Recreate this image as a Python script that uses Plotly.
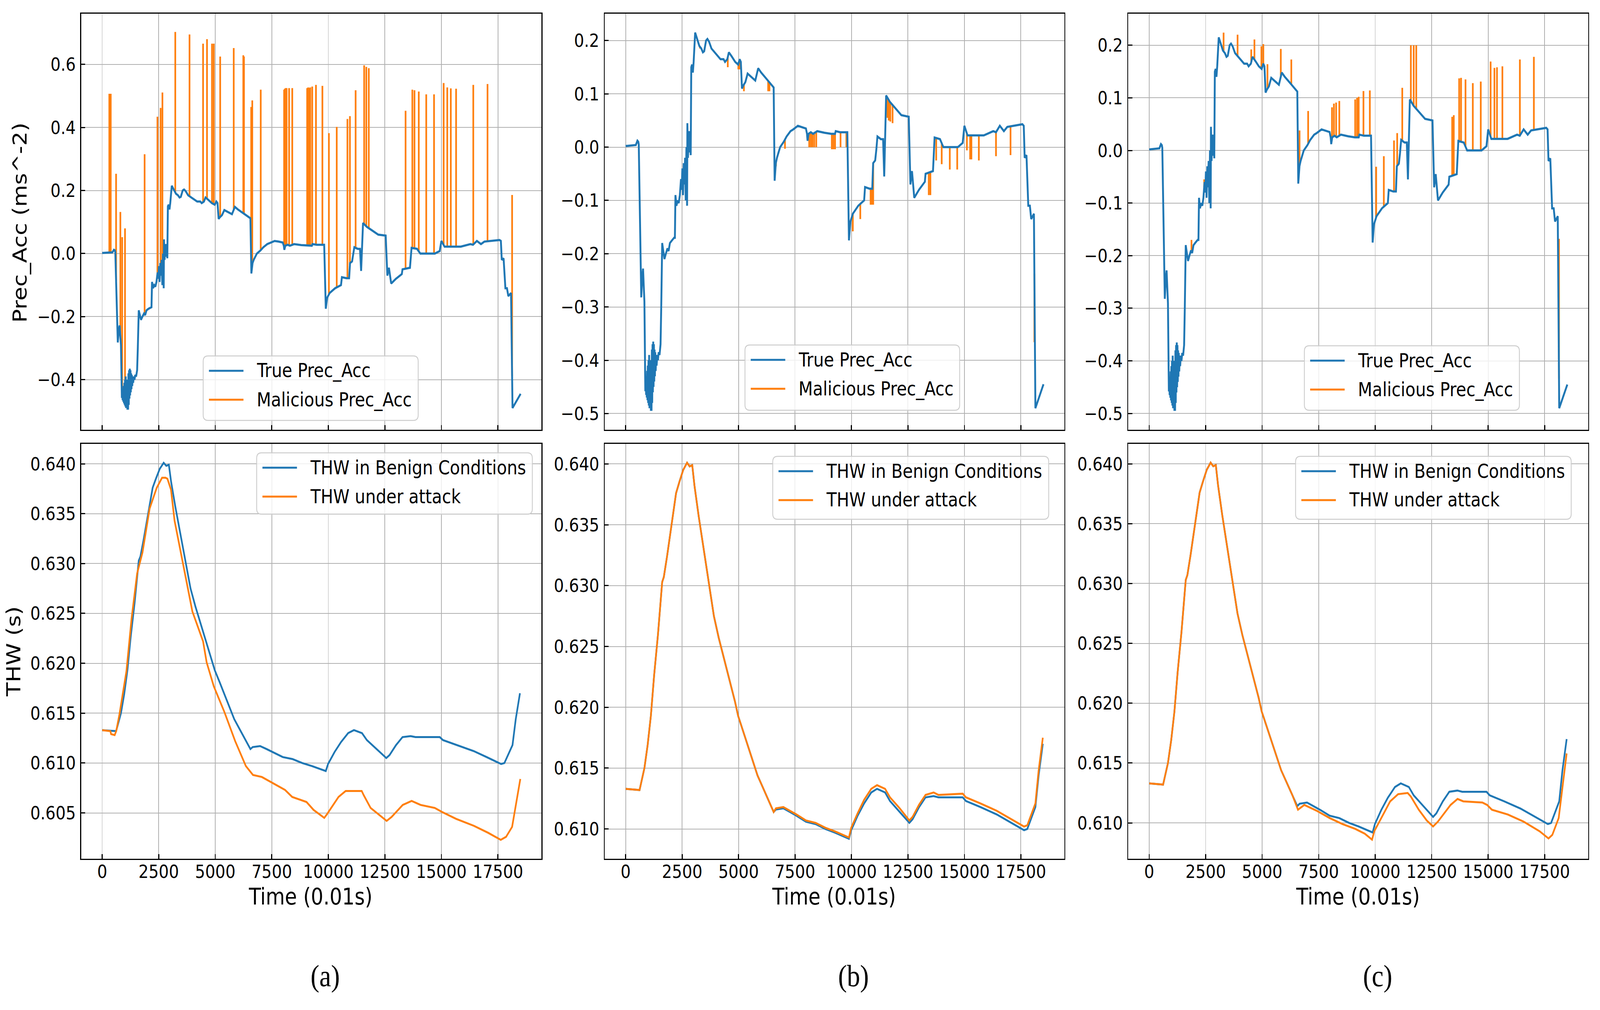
import numpy as np
import plotly.graph_objects as go

W, H = 4725, 2585

# ---------------- data ----------------
# true preceding-vehicle acceleration (same in all three scenarios)
true_t = [0, 300, 450, 520, 560, 580, 690, 740, 770, 800, 830, 870, 890, 905, 920, 935, 950, 965, 980,
          995, 1010, 1025, 1040, 1055, 1070, 1085, 1100, 1115, 1130, 1145, 1160, 1175, 1190, 1205,
          1220, 1235, 1250, 1265, 1280, 1295, 1310, 1330, 1350, 1370, 1400, 1430, 1460, 1500, 1545,
          1575, 1617, 1650, 1717, 1780, 1850, 1900, 1960, 2050, 2146, 2180, 2204, 2250, 2300, 2350,
          2400, 2450, 2480, 2510, 2540, 2570, 2600, 2630, 2660, 2690, 2720, 2733, 2760, 2790, 2820,
          2850, 2880, 2905, 2940, 2976, 3010, 3077, 3150, 3262, 3350, 3420, 3477, 3560, 3620, 3692,
          3800, 4000, 4200, 4335, 4400, 4500, 4570, 4700, 4850, 4980, 5050, 5100, 5150, 5200, 5300,
          5400, 5480, 5600, 5740, 5868, 6000, 6200, 6400, 6554, 6597, 6650, 6700, 6840, 7000, 7126,
          7300, 7412, 7626, 7800, 7983, 8030, 8055, 8100, 8200, 8300, 8485, 8800, 9100, 9273, 9300,
          9500, 9817, 9888, 9950, 10060, 10300, 10561, 10600, 10800, 10920, 10960, 11050, 11100,
          11150, 11300, 11400, 11450, 11535, 11700, 11900, 12100, 12208, 12537, 12610, 12680, 12780,
          12990, 13250, 13280, 13610, 13680, 13920, 14070, 14710, 14925, 15000, 15140, 15860, 16280,
          16400, 16570, 16750, 16900, 17140, 17570, 17630, 17670, 17750, 17830, 17900, 17960, 18080,
          18145, 18503]
true_v = [0.002, 0.003, 0.004, 0.012, 0.010, 0.005, -0.282, -0.24, -0.228, -0.26, -0.29, -0.458, -0.44,
          -0.465, -0.43, -0.47, -0.42, -0.475, -0.41, -0.48, -0.40, -0.485, -0.39, -0.49, -0.40, -0.49,
          -0.41, -0.495, -0.40, -0.495, -0.38, -0.48, -0.37, -0.46, -0.365, -0.45, -0.37, -0.44, -0.38,
          -0.43, -0.385, -0.42, -0.39, -0.41, -0.39, -0.40, -0.385, -0.39, -0.37, -0.30, -0.18, -0.19,
          -0.21, -0.20, -0.19, -0.195, -0.18, -0.175, -0.17, -0.17, -0.09, -0.11, -0.10, -0.105, -0.09,
          -0.06, -0.08, -0.04, -0.09, -0.03, -0.07, -0.02, -0.10, 0.0, -0.11, 0.045, -0.02, 0.03, -0.01,
          0.03, -0.015, 0.15, 0.155, 0.14, 0.16, 0.215, 0.205, 0.19, 0.185, 0.178, 0.18, 0.20, 0.203,
          0.198, 0.185, 0.175, 0.165, 0.165, 0.16, 0.165, 0.178, 0.17, 0.16, 0.155, 0.165, 0.16, 0.11,
          0.115, 0.122, 0.138, 0.135, 0.13, 0.125, 0.148, 0.14, 0.13, 0.12, 0.112, -0.063, -0.03,
          -0.02, 0.0, 0.01, 0.02, 0.03, 0.033, 0.04, 0.038, 0.035, 0.025, 0.012, 0.025, 0.028, 0.025,
          0.03, 0.027, 0.025, 0.025, 0.03, 0.028, 0.028, -0.175, -0.14, -0.125, -0.11, -0.10, -0.075,
          -0.078, -0.078, -0.03, -0.025, -0.005, 0.02, 0.015, 0.015, -0.055, 0.097, 0.085, 0.075,
          0.065, 0.06, 0.057, -0.07, -0.045, -0.095, -0.08, -0.065, -0.05, -0.045, 0.018, 0.015, 0.0,
          0.0, 0.008, 0.04, 0.022, 0.022, 0.03, 0.028, 0.04, 0.03, 0.038, 0.04, 0.043, 0.04, -0.02,
          -0.015, -0.11, -0.11, -0.135, -0.125, -0.49, -0.445]

# malicious spikes (time, injected value) for the three attacks
spike_a_t = [315, 378, 615, 804, 883, 1009, 1876, 2443, 2585, 2664, 3232, 3862, 4461, 4635, 4855, 4934,
             5218, 5817, 6240, 6270, 6589, 6637, 7011, 8045, 8080, 8115, 8155, 8265, 8405, 9064, 9110,
             9160, 9200, 9288, 9453, 9738, 10025, 10372, 10845, 10955, 11207, 11585, 11680, 11790,
             13416, 13715, 13810, 14000, 14330, 14675, 15100, 15260, 15416, 15650, 16410, 17040, 18127]
spike_a_v = [0.507, 0.507, 0.253, 0.132, 0.052, 0.08, 0.315, 0.434, 0.462, 0.511, 0.703, 0.695, 0.666,
             0.68, 0.666, 0.666, 0.625, 0.652, 0.629, 0.625, 0.465, 0.486, 0.52, 0.52, 0.523, 0.525,
             0.525, 0.525, 0.525, 0.525, 0.527, 0.525, 0.527, 0.53, 0.535, 0.532, 0.382, 0.402, 0.427,
             0.436, 0.518, 0.597, 0.592, 0.588, 0.453, 0.52, 0.518, 0.514, 0.505, 0.505, 0.541, 0.527,
             0.524, 0.523, 0.535, 0.538, 0.186]

spike_b_t = [3290, 3907, 4522, 4990, 5050, 5237, 6310, 6368, 6654, 7055, 8128, 8200, 8270, 8350, 8440,
             9130, 9200, 9273, 9516, 9774, 10060, 10390, 10847, 10900, 10962, 11590, 11650, 11720,
             11820, 13423, 13495, 13752, 13996, 14354, 14683, 15112, 15255, 15312, 15641, 16400,
             17044, 18100]
spike_b_v = [0.185, 0.181, 0.150, 0.146, 0.146, 0.105, 0.105, 0.105, -0.036, -0.003, 0.0, 0.0, 0.0,
             0.0, 0.0, -0.004, -0.004, -0.004, 0.0, 0.0, -0.158, -0.135, -0.108, -0.108, -0.108,
             0.055, 0.05, 0.048, 0.045, -0.09, -0.09, -0.025, -0.032, -0.042, -0.042, -0.006, -0.023,
             -0.023, -0.025, -0.017, -0.015, -0.366]

spike_c_t = [1871, 2434, 3292, 3911, 4516, 4657, 4966, 5051, 5234, 5824, 6289, 6654, 7034, 8089, 8174,
             8272, 8413, 9116, 9200, 9271, 9482, 9764, 10045, 10383, 10833, 10974, 11199, 11579,
             11705, 11818, 13408, 13478, 13717, 13801, 13998, 14321, 14673, 15109, 15278, 15391,
             15630, 16404, 17023, 18135]
spike_c_v = [-0.17, -0.055, 0.224, 0.22, 0.192, 0.211, 0.198, 0.202, 0.164, 0.193, 0.173, 0.038, 0.075,
             0.082, 0.089, 0.091, 0.094, 0.097, 0.1, 0.102, 0.113, 0.114, -0.031, -0.011, 0.019, 0.033,
             0.119, 0.2, 0.2, 0.2, 0.064, 0.067, 0.137, 0.138, 0.135, 0.128, 0.131, 0.169, 0.157,
             0.158, 0.16, 0.173, 0.178, -0.168]

# time headway in benign conditions (same in all three)
thw_t = [0, 615, 687, 830, 973, 1116, 1259, 1431, 1617, 1689, 1832, 2046, 2232, 2375, 2547, 2719,
         2833, 2948, 3048, 3234, 3477, 3692, 3907, 4122, 4407, 4622, 4837, 4980, 5195, 5409, 5624,
         5839, 6054, 6340, 6554, 6654, 6983, 7270, 7556, 7985, 8415, 8844, 9273, 9888, 9988, 10275,
         10561, 10876, 11133, 11490, 11705, 12135, 12564, 12708, 12994, 13280, 13638, 13853, 14926,
         15069, 15713, 16428, 16999, 17643, 17786, 18001, 18145, 18288, 18474]
thw_v = [0.6133, 0.6132, 0.6138, 0.6150, 0.6169, 0.6193, 0.6226, 0.6260, 0.6303, 0.6307, 0.6324,
         0.6351, 0.6376, 0.6385, 0.6395, 0.6401, 0.6398, 0.6399, 0.6382, 0.6357, 0.6327, 0.6300,
         0.6275, 0.6257, 0.6236, 0.6220, 0.6205, 0.6193, 0.6181, 0.6169, 0.6156, 0.6144, 0.6135,
         0.6123, 0.6114, 0.6116, 0.6117, 0.6114, 0.6111, 0.6106, 0.6104, 0.6100, 0.6097, 0.6092,
         0.6099, 0.6111, 0.6121, 0.6130, 0.6133, 0.6130, 0.6123, 0.6114, 0.6105, 0.6108, 0.6118,
         0.6126, 0.6127, 0.6126, 0.6126, 0.6123, 0.6118, 0.6112, 0.6106, 0.6099, 0.6100, 0.6111,
         0.6118, 0.6144, 0.6170]

# time headway under attack
atk_a_t = [0, 363, 394, 552, 620, 757, 1072, 1300, 1545, 1781, 2097, 2412, 2648, 2800, 2885, 3043,
           3200, 3673, 3988, 4461, 4619, 4934, 5407, 5880, 6353, 6668, 7062, 7614, 8087, 8402, 9033,
           9348, 9821, 9950, 10135, 10450, 10766, 11476, 11560, 11869, 12579, 12800, 13290, 13684,
           14080, 14707, 15023, 15654, 16442, 17073, 17624, 17860, 18127, 18490]
atk_a_v = [0.6133, 0.6132, 0.6129, 0.6128, 0.6132, 0.6148, 0.6192, 0.6245, 0.6290, 0.6311, 0.6355,
           0.6376, 0.6386, 0.6386, 0.6385, 0.6374, 0.6343, 0.6289, 0.6252, 0.6222, 0.6201, 0.6177,
           0.6151, 0.6122, 0.6097, 0.6088, 0.6086, 0.6079, 0.6073, 0.6066, 0.6061, 0.6053, 0.6045,
           0.6049, 0.6055, 0.6066, 0.6072, 0.6072, 0.6068, 0.6055, 0.6042, 0.6046, 0.6058, 0.6062,
           0.6058, 0.6055, 0.6051, 0.6044, 0.6037, 0.6030, 0.6023, 0.6026, 0.6036, 0.6084]

atk_b_t = [0, 615, 687, 830, 973, 1116, 1259, 1431, 1617, 1689, 1832, 2046, 2232, 2375, 2547, 2719,
           2833, 2948, 3048, 3234, 3477, 3692, 3907, 4122, 4407, 4622, 4837, 4980, 5195, 5409, 5624,
           5839, 6054, 6340, 6554, 6654, 6983, 7270, 7556, 7985, 8415, 8844, 9273, 9888, 9988, 10275,
           10561, 10876, 11133, 11490, 11705, 12135, 12564, 12708, 12994, 13280, 13638, 13853, 14926,
           15069, 15713, 16428, 16999, 17643, 17786, 18001, 18145, 18288, 18474]
atk_b_v = [0.6133, 0.6132, 0.6138, 0.6150, 0.6169, 0.6193, 0.6226, 0.6260, 0.6303, 0.6307, 0.6324,
           0.6351, 0.6376, 0.6385, 0.6395, 0.6401, 0.6398, 0.6399, 0.6382, 0.6357, 0.6327, 0.6300,
           0.6275, 0.6257, 0.6236, 0.6220, 0.6205, 0.6193, 0.6181, 0.6169, 0.6156, 0.6144, 0.6135,
           0.6123, 0.6114, 0.6117, 0.6118, 0.6115, 0.6112, 0.6107, 0.6105, 0.6101, 0.6098, 0.6093,
           0.6101, 0.6113, 0.6124, 0.6133, 0.6136, 0.6133, 0.6126, 0.6117, 0.6107, 0.6110, 0.6120,
           0.6128, 0.6130, 0.6128, 0.6129, 0.6126, 0.6121, 0.6115, 0.6109, 0.6102, 0.6103, 0.6114,
           0.6121, 0.6148, 0.6175]

atk_c_t = [0, 615, 687, 830, 973, 1116, 1259, 1431, 1617, 1689, 1832, 2046, 2232, 2375, 2547, 2719,
           2833, 2948, 3048, 3234, 3477, 3692, 3907, 4122, 4407, 4622, 4837, 4980, 5195, 5409, 5624,
           5839, 6054, 6340, 6584, 6865, 7428, 7991, 8554, 9117, 9539, 9862, 9961, 10383, 10664,
           11016, 11438, 11579, 11930, 12282, 12563, 12774, 13055, 13337, 13646, 13899, 14744, 14955,
           15166, 15869, 16573, 17277, 17671, 17840, 18121, 18473]
atk_c_v = [0.6133, 0.6132, 0.6138, 0.6150, 0.6169, 0.6193, 0.6226, 0.6260, 0.6303, 0.6307, 0.6324,
           0.6351, 0.6376, 0.6385, 0.6395, 0.6401, 0.6398, 0.6399, 0.6382, 0.6357, 0.6327, 0.6300,
           0.6275, 0.6257, 0.6236, 0.6220, 0.6205, 0.6193, 0.6181, 0.6169, 0.6156, 0.6144, 0.6135,
           0.6123, 0.6111, 0.6115, 0.6110, 0.6104, 0.6099, 0.6095, 0.6091, 0.6086, 0.6093, 0.6108,
           0.6118, 0.6124, 0.6125, 0.6122, 0.6111, 0.6102, 0.6097, 0.6101, 0.6108, 0.6115, 0.6120,
           0.6118, 0.6117, 0.6115, 0.6111, 0.6107, 0.6101, 0.6093, 0.6087, 0.6090, 0.6104, 0.6158]

x_ticks = [0, 2500, 5000, 7500, 10000, 12500, 15000, 17500]
acc_ticks_a = [-0.4, -0.2, 0.0, 0.2, 0.4, 0.6]
acc_ticks_bc = [-0.5, -0.4, -0.3, -0.2, -0.1, 0.0, 0.1, 0.2]
thw_ticks_a = [0.605, 0.610, 0.615, 0.620, 0.625, 0.630, 0.635, 0.640]
thw_ticks_bc = [0.610, 0.615, 0.620, 0.625, 0.630, 0.635, 0.640]

legend_acc = ["True Prec_Acc", "Malicious Prec_Acc"]
legend_thw = ["THW in Benign Conditions", "THW under attack"]
panel_labels = ["(a)", "(b)", "(c)"]

BLUE = "#1f77b4"
ORANGE = "#ff7f0e"
FONT = "DejaVu Sans"

# ---------------- layout helpers ----------------
def fx(x):
    return x / W

def fy(y):
    return 1 - y / H

col_px = [(240, 1599), (1786, 3143), (3332, 4690)]
row_px = [(35, 1100), (1136, 2198)]

fig = go.Figure()


def spikes(st, sv):
    base = np.interp(st, true_t, true_v)
    xs, ys = [], []
    for t, b, v in zip(st, base, sv):
        xs += [t, t, None]
        ys += [float(b), v, None]
    return xs, ys


spike_sets = [(spike_a_t, spike_a_v), (spike_b_t, spike_b_v), (spike_c_t, spike_c_v)]
attacks = [(atk_a_t, atk_a_v), (atk_b_t, atk_b_v), (atk_c_t, atk_c_v)]

for i in range(3):
    ax = "" if i == 0 else str(i + 1)
    sx, sy = spikes(*spike_sets[i])
    fig.add_trace(go.Scatter(x=sx, y=sy, mode="lines", line=dict(color=ORANGE, width=5),
                             xaxis="x" + ax, yaxis="y" + ax, showlegend=False, connectgaps=False))
    fig.add_trace(go.Scatter(x=true_t, y=true_v, mode="lines", line=dict(color=BLUE, width=5.5),
                             xaxis="x" + ax, yaxis="y" + ax, showlegend=False))
for i in range(3):
    ax = str(i + 4)
    fig.add_trace(go.Scatter(x=thw_t, y=thw_v, mode="lines", line=dict(color=BLUE, width=5),
                             xaxis="x" + ax, yaxis="y" + ax, showlegend=False))
    fig.add_trace(go.Scatter(x=attacks[i][0], y=attacks[i][1], mode="lines",
                             line=dict(color=ORANGE, width=5),
                             xaxis="x" + ax, yaxis="y" + ax, showlegend=False))

common = dict(showline=True, linecolor="black", linewidth=2.5, mirror=True, ticks="inside",
              ticklen=12, tickwidth=2.5, tickcolor="black", showgrid=True, gridcolor="#b0b0b0",
              gridwidth=2, zeroline=False,
              tickfont=dict(family=FONT, size=47, color="black"))

acc_ranges = [[-0.559, 0.761], [-0.5305, 0.2505], [-0.531, 0.26]]
thw_ranges = [[0.6004, 0.6420], [0.60755, 0.64165], [0.6070, 0.64167]]


def fmt(v, d):
    s = f"{v:.{d}f}"
    return s.replace("-", "\u2212")


layout = {}
for r in range(2):
    for c in range(3):
        n = r * 3 + c + 1
        key = "" if n == 1 else str(n)
        x0, x1 = col_px[c]
        y0, y1 = row_px[r]
        xa = dict(common, domain=[fx(x0), fx(x1)], range=[-925, 19425], tickvals=x_ticks,
                  ticktext=[str(t) for t in x_ticks], anchor="y" + key,
                  showticklabels=(r == 1), ticklabelstandoff=-10)
        if r == 0:
            tv = acc_ticks_a if c == 0 else acc_ticks_bc
            yr = acc_ranges[c]
            tt = [fmt(v, 1) for v in tv]
        else:
            tv = thw_ticks_a if c == 0 else thw_ticks_bc
            yr = thw_ranges[c]
            tt = [fmt(v, 3) for v in tv]
        ya = dict(common, domain=[fy(y1), fy(y0)], range=yr, tickvals=tv, ticktext=tt,
                  anchor="x" + key, ticklabelstandoff=4)
        layout["xaxis" + key] = xa
        layout["yaxis" + key] = ya

shapes = []
annotations = []


def rounded_box(x0, y0, x1, y1, r=14):
    X = lambda v: fx(v)
    Y = lambda v: fy(v)
    p = (f"M {X(x0 + r)},{Y(y0)} L {X(x1 - r)},{Y(y0)} Q {X(x1)},{Y(y0)} {X(x1)},{Y(y0 + r)} "
         f"L {X(x1)},{Y(y1 - r)} Q {X(x1)},{Y(y1)} {X(x1 - r)},{Y(y1)} "
         f"L {X(x0 + r)},{Y(y1)} Q {X(x0)},{Y(y1)} {X(x0)},{Y(y1 - r)} "
         f"L {X(x0)},{Y(y0 + r)} Q {X(x0)},{Y(y0)} {X(x0 + r)},{Y(y0)} Z")
    return dict(type="path", path=p, xref="paper", yref="paper", layer="above",
                fillcolor="rgba(255,255,255,0.8)", line=dict(color="#cccccc", width=2.5))


def legend(box, labels):
    x0, y0, x1, y1 = box
    shapes.append(rounded_box(x0, y0, x1, y1))
    for k, (lab, col) in enumerate(zip(labels, [BLUE, ORANGE])):
        yc = y0 + 38 + 74 * k
        shapes.append(dict(type="line", xref="paper", yref="paper", layer="above",
                           x0=fx(x0 + 17), x1=fx(x0 + 119), y0=fy(yc), y1=fy(yc),
                           line=dict(color=col, width=5)))
        annotations.append(dict(text=lab, xref="paper", yref="paper", x=fx(x0 + 156), y=fy(yc),
                                xanchor="left", yanchor="middle", showarrow=False,
                                font=dict(family=FONT, size=49, color="black")))


legend((600, 911, 1235, 1076), legend_acc)
legend((2200, 883, 2834, 1050), legend_acc)
legend((3852, 885, 4487, 1050), legend_acc)
legend((758, 1159, 1572, 1316), legend_thw)
legend((2282, 1168, 3097, 1329), legend_thw)
legend((3826, 1168, 4640, 1329), legend_thw)

# axis titles
annotations.append(dict(text="Prec_Acc (ms^-2)", xref="paper", yref="paper", x=fx(58), y=fy(570),
                        textangle=-90, showarrow=False, xanchor="center", yanchor="middle",
                        font=dict(family=FONT, size=58, color="black")))
annotations.append(dict(text="THW (s)", xref="paper", yref="paper", x=fx(40), y=fy(1668),
                        textangle=-90, showarrow=False, xanchor="center", yanchor="middle",
                        font=dict(family=FONT, size=58, color="black")))
for xc in [917, 2463, 4010]:
    annotations.append(dict(text="Time (0.01s)", xref="paper", yref="paper", x=fx(xc), y=fy(2295),
                            showarrow=False, xanchor="center", yanchor="middle",
                            font=dict(family=FONT, size=58, color="black")))
for lab, xc in zip(panel_labels, [960, 2520, 4068]):
    annotations.append(dict(text=lab, xref="paper", yref="paper", x=fx(xc), y=fy(2497),
                            showarrow=False, xanchor="center", yanchor="middle",
                            font=dict(family="Liberation Serif", size=78, color="black")))

fig.update_layout(width=W, height=H, margin=dict(l=0, r=0, t=0, b=0), paper_bgcolor="white",
                  plot_bgcolor="white", showlegend=False, shapes=shapes, annotations=annotations,
                  **layout)

# fit the fixed-size 4725x2585 figure exactly into the browser viewport
fit_js = """
var gd = document.getElementById('{plot_id}');
document.documentElement.style.margin = '0';
document.documentElement.style.overflow = 'hidden';
document.body.style.margin = '0';
document.body.style.overflow = 'hidden';
var sx = window.innerWidth / %d;
var sy = window.innerHeight / %d;
var wrap = gd.parentElement;
wrap.style.width = '100vw';
wrap.style.height = '100vh';
wrap.style.overflow = 'hidden';
gd.style.transformOrigin = '0 0';
gd.style.transform = 'scale(' + sx + ',' + sy + ')';
""" % (W, H)

fig.write_html("out.html", post_script=fit_js, config={"displayModeBar": False})
